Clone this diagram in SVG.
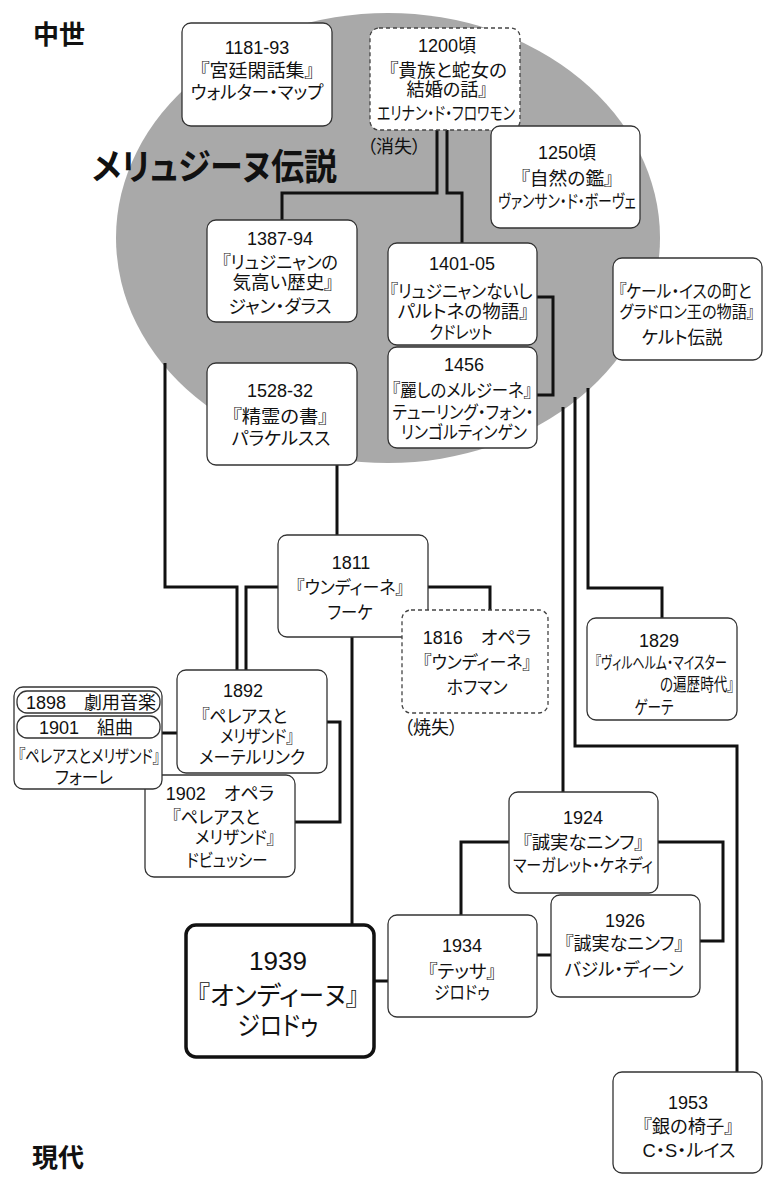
<svg xmlns="http://www.w3.org/2000/svg" width="776" height="1186" viewBox="0 0 776 1186">
<style>
text{font-family:"Liberation Sans","Noto Sans CJK JP",sans-serif;font-size:18px;fill:#111;text-anchor:middle;font-feature-settings:"palt" 1;}
.box{fill:#fff;stroke:#333;stroke-width:1.3;}
.dash{fill:#fff;stroke:#444;stroke-width:1.3;stroke-dasharray:4 3;}
.main{fill:#fff;stroke:#111;stroke-width:3.5;}
.pill{fill:#fff;stroke:#333;stroke-width:1.3;}
.con{fill:none;stroke:#111;stroke-width:3;}
.era{font-size:26px;font-weight:bold;text-anchor:start;}
.big{font-size:26px;}
.sm{font-size:16.5px;}
</style>
<rect width="776" height="1186" fill="#fff"/>
<ellipse id="legend-area" cx="388" cy="238" rx="272" ry="225" fill="#a9a9a9"/>
<text class="era" x="33" y="44">中世</text>
<text class="era" x="32" y="1167">現代</text>
<text id="legend-title" x="92" y="180" style="font-size:36px;font-weight:bold;text-anchor:start" textLength="245" lengthAdjust="spacingAndGlyphs">メリュジーヌ伝説</text>
<g id="connectors">
<path class="con" d="M437,130 V193 H282 V220"/>
<path class="con" d="M447,130 V193 H462 V243"/>
<path class="con" d="M537,297 H553 V395 H537"/>
<path class="con" d="M563,407 V792"/>
<path class="con" d="M575,397 V746 H737 V1072"/>
<path class="con" d="M588,388 V588 H662 V618"/>
<path class="con" d="M165,363 V587 H237 V670"/>
<path class="con" d="M278,587 H246 V670"/>
<path class="con" d="M337,465 V535"/>
<path class="con" d="M428,587 H490 V610"/>
<path class="con" d="M352,637 V925"/>
<path class="con" d="M327,722 H340 V822 H295"/>
<path class="con" d="M162,733 H177"/>
<path class="con" d="M509,842 H461 V915"/>
<path class="con" d="M658,842 H723 V941 H700"/>
<path class="con" d="M537,955 H551"/>
<path class="con" d="M374,981 H388"/>
</g>
<g id="n1181">
<rect class="box" x="182" y="23" width="150" height="103" rx="9"/>
<text x="257" y="54">1181-93</text>
<text x="257" y="77" textLength="114" lengthAdjust="spacingAndGlyphs">『宮廷閑話集』</text>
<text x="257" y="99" textLength="133" lengthAdjust="spacingAndGlyphs">ウォルター・マップ</text>
</g>
<g id="n1200">
<rect class="dash" x="370" y="28" width="150" height="102" rx="9"/>
<text x="447" y="52">1200頃</text>
<text x="448" y="77" textLength="118" lengthAdjust="spacingAndGlyphs">『貴族と蛇女の</text>
<text x="447" y="96" textLength="81" lengthAdjust="spacingAndGlyphs">結婚の話』</text>
<text x="446" y="120" textLength="138" lengthAdjust="spacingAndGlyphs">エリナン・ド・フロワモン</text>
<text x="394" y="153">（消失）</text>
</g>
<g id="n1250">
<rect class="box" x="491" y="126" width="149" height="102" rx="9"/>
<text x="567" y="159">1250頃</text>
<text x="567" y="185" textLength="93" lengthAdjust="spacingAndGlyphs">『自然の鑑』</text>
<text x="567" y="208" textLength="138" lengthAdjust="spacingAndGlyphs">ヴァンサン・ド・ボーヴェ</text>
</g>
<g id="n1387">
<rect class="box" x="207" y="220" width="150" height="102" rx="9"/>
<text x="280" y="245">1387-94</text>
<text x="280" y="269" textLength="116" lengthAdjust="spacingAndGlyphs">『リュジニャンの</text>
<text x="283" y="289" textLength="101" lengthAdjust="spacingAndGlyphs">気高い歴史』</text>
<text x="280" y="313" textLength="103" lengthAdjust="spacingAndGlyphs">ジャン・ダラス</text>
</g>
<g id="n1528">
<rect class="box" x="207" y="363" width="150" height="102" rx="9"/>
<text x="280" y="397">1528-32</text>
<text x="280" y="423" textLength="96" lengthAdjust="spacingAndGlyphs">『精霊の書』</text>
<text x="281" y="445" textLength="99" lengthAdjust="spacingAndGlyphs">パラケルスス</text>
</g>
<g id="n1401">
<rect class="box" x="388" y="243" width="149" height="102" rx="9"/>
<text x="462" y="270">1401-05</text>
<text x="461" y="298" textLength="143" lengthAdjust="spacingAndGlyphs">『リュジニャンないし</text>
<text x="463" y="318" textLength="131" lengthAdjust="spacingAndGlyphs">パルトネの物語』</text>
<text x="461" y="339" textLength="63" lengthAdjust="spacingAndGlyphs">クドレット</text>
</g>
<g id="n1456">
<rect class="box" x="388" y="347" width="149" height="101" rx="9"/>
<text x="464" y="371">1456</text>
<text x="462" y="397" textLength="140" lengthAdjust="spacingAndGlyphs">『麗しのメルジーネ』</text>
<text x="463" y="419" textLength="141" lengthAdjust="spacingAndGlyphs">テューリング・フォン・</text>
<text x="464" y="439" textLength="126" lengthAdjust="spacingAndGlyphs">リンゴルティンゲン</text>
</g>
<g id="nKerIs">
<rect class="box" x="613" y="258" width="149" height="102" rx="9"/>
<text x="685" y="298" textLength="133" lengthAdjust="spacingAndGlyphs">『ケール・イスの町と</text>
<text class="sm" x="687" y="318" textLength="135" lengthAdjust="spacingAndGlyphs">グラドロン王の物語』</text>
<text x="682" y="344" textLength="81" lengthAdjust="spacingAndGlyphs">ケルト伝説</text>
</g>
<g id="n1811">
<rect class="box" x="278" y="535" width="150" height="102" rx="9"/>
<text x="351" y="569">1811</text>
<text x="350" y="594" textLength="108" lengthAdjust="spacingAndGlyphs">『ウンディーネ』</text>
<text x="350" y="619" textLength="45" lengthAdjust="spacingAndGlyphs">フーケ</text>
</g>
<g id="n1816">
<rect class="dash" x="402" y="610" width="146" height="103" rx="9"/>
<text x="477" y="644">1816　オペラ</text>
<text x="477" y="669" textLength="108" lengthAdjust="spacingAndGlyphs">『ウンディーネ』</text>
<text x="477" y="694" textLength="61" lengthAdjust="spacingAndGlyphs">ホフマン</text>
<text x="431" y="734">（焼失）</text>
</g>
<g id="n1829">
<rect class="box" x="587" y="618" width="150" height="102" rx="9"/>
<text x="659" y="647">1829</text>
<text class="sm" x="661" y="669" textLength="132" lengthAdjust="spacingAndGlyphs">『ヴィルヘルム・マイスター</text>
<text x="697" y="691" textLength="74" lengthAdjust="spacingAndGlyphs">の遍歴時代』</text>
<text x="654" y="714" textLength="39" lengthAdjust="spacingAndGlyphs">ゲーテ</text>
</g>
<g id="n1902">
<rect class="box" x="145" y="775" width="150" height="102" rx="9"/>
<text x="220" y="800">1902　オペラ</text>
<text x="216" y="824" textLength="88" lengthAdjust="spacingAndGlyphs">『ペレアスと</text>
<text x="235" y="844" textLength="80" lengthAdjust="spacingAndGlyphs">メリザンド』</text>
<text x="227" y="867" textLength="81" lengthAdjust="spacingAndGlyphs">ドビュッシー</text>
</g>
<g id="nFaure">
<rect class="box" x="14" y="687" width="148" height="102" rx="9"/>
<rect class="pill" x="17" y="691" width="143" height="22" rx="10"/>
<rect class="pill" x="17" y="716" width="143" height="22" rx="10"/>
<text x="91" y="709">1898　劇用音楽</text>
<text x="86" y="734">1901　組曲</text>
<text x="89" y="763" textLength="142" lengthAdjust="spacingAndGlyphs">『ペレアスとメリザンド』</text>
<text x="84" y="784" textLength="58" lengthAdjust="spacingAndGlyphs">フォーレ</text>
</g>
<g id="n1892">
<rect class="box" x="177" y="670" width="150" height="103" rx="9"/>
<text x="243" y="697">1892</text>
<text x="244" y="723" textLength="86" lengthAdjust="spacingAndGlyphs">『ペレアスと</text>
<text x="257" y="743" textLength="74" lengthAdjust="spacingAndGlyphs">メリザンド』</text>
<text x="252" y="764" textLength="106" lengthAdjust="spacingAndGlyphs">メーテルリンク</text>
</g>
<g id="n1924">
<rect class="box" x="509" y="792" width="149" height="101" rx="9"/>
<text x="583" y="824">1924</text>
<text x="583" y="849" textLength="121" lengthAdjust="spacingAndGlyphs">『誠実なニンフ』</text>
<text x="583" y="872" textLength="140" lengthAdjust="spacingAndGlyphs">マーガレット・ケネディ</text>
</g>
<g id="n1926">
<rect class="box" x="551" y="895" width="149" height="102" rx="9"/>
<text x="625" y="927">1926</text>
<text x="624" y="950" textLength="119" lengthAdjust="spacingAndGlyphs">『誠実なニンフ』</text>
<text x="624" y="976" textLength="119" lengthAdjust="spacingAndGlyphs">バジル・ディーン</text>
</g>
<g id="n1934">
<rect class="box" x="388" y="915" width="149" height="102" rx="9"/>
<text x="462" y="952">1934</text>
<text x="462" y="978" textLength="68" lengthAdjust="spacingAndGlyphs">『テッサ』</text>
<text x="462" y="999" textLength="56" lengthAdjust="spacingAndGlyphs">ジロドゥ</text>
</g>
<g id="n1939">
<rect class="main" x="186" y="925" width="188" height="132" rx="10"/>
<text class="big" x="278" y="970">1939</text>
<text class="big" x="278" y="1005" textLength="162" lengthAdjust="spacingAndGlyphs">『オンディーヌ』</text>
<text class="big" x="278" y="1035" textLength="81" lengthAdjust="spacingAndGlyphs">ジロドゥ</text>
</g>
<g id="n1953">
<rect class="box" x="613" y="1072" width="149" height="101" rx="9"/>
<text x="688" y="1109">1953</text>
<text x="688" y="1133" textLength="91" lengthAdjust="spacingAndGlyphs">『銀の椅子』</text>
<text x="689" y="1157" textLength="93" lengthAdjust="spacingAndGlyphs">C・S・ルイス</text>
</g>
</svg>
